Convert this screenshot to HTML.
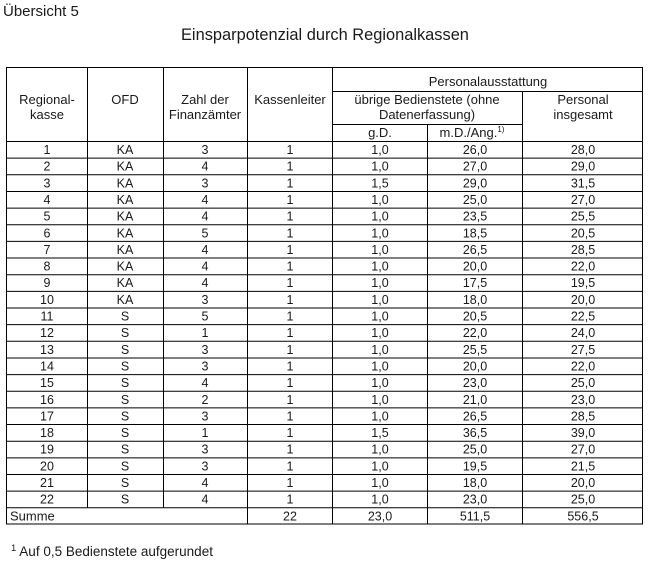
<!DOCTYPE html>
<html><head><meta charset="utf-8"><style>
body{margin:0;background:#fff;}
svg{display:block;font-family:"Liberation Sans",Arial,sans-serif;}
text{fill:#1a1a1a;}
.c{text-anchor:middle;font-size:12.5px;}
.h{text-anchor:middle;font-size:13px;}
</style></head><body>
<svg width="648" height="563" xmlns="http://www.w3.org/2000/svg">
<text x="3" y="16" font-size="15">Übersicht 5</text>
<text x="181" y="40" font-size="16.4">Einsparpotenzial durch Regionalkassen</text>
<g stroke="#000" stroke-width="1" fill="none">
<rect x="6.5" y="67.5" width="636" height="456.5"/>
<line x1="332.5" y1="91.5" x2="642.5" y2="91.5"/>
<line x1="332.5" y1="124.5" x2="522.5" y2="124.5"/>
<line x1="6.5" y1="141.5" x2="642.5" y2="141.5"/>
<line x1="87.5" y1="67.5" x2="87.5" y2="507.5"/>
<line x1="163.5" y1="67.5" x2="163.5" y2="507.5"/>
<line x1="247.5" y1="67.5" x2="247.5" y2="524"/>
<line x1="332.5" y1="67.5" x2="332.5" y2="524"/>
<line x1="427.5" y1="124.5" x2="427.5" y2="524"/>
<line x1="522.5" y1="91.5" x2="522.5" y2="524"/>
<line x1="6.5" y1="158.15" x2="642.5" y2="158.15"/>
<line x1="6.5" y1="174.8" x2="642.5" y2="174.8"/>
<line x1="6.5" y1="191.45" x2="642.5" y2="191.45"/>
<line x1="6.5" y1="208.1" x2="642.5" y2="208.1"/>
<line x1="6.5" y1="224.75" x2="642.5" y2="224.75"/>
<line x1="6.5" y1="241.4" x2="642.5" y2="241.4"/>
<line x1="6.5" y1="258.05" x2="642.5" y2="258.05"/>
<line x1="6.5" y1="274.7" x2="642.5" y2="274.7"/>
<line x1="6.5" y1="291.35" x2="642.5" y2="291.35"/>
<line x1="6.5" y1="308" x2="642.5" y2="308"/>
<line x1="6.5" y1="324.65" x2="642.5" y2="324.65"/>
<line x1="6.5" y1="341.3" x2="642.5" y2="341.3"/>
<line x1="6.5" y1="357.95" x2="642.5" y2="357.95"/>
<line x1="6.5" y1="374.6" x2="642.5" y2="374.6"/>
<line x1="6.5" y1="391.25" x2="642.5" y2="391.25"/>
<line x1="6.5" y1="407.9" x2="642.5" y2="407.9"/>
<line x1="6.5" y1="424.55" x2="642.5" y2="424.55"/>
<line x1="6.5" y1="441.2" x2="642.5" y2="441.2"/>
<line x1="6.5" y1="457.85" x2="642.5" y2="457.85"/>
<line x1="6.5" y1="474.5" x2="642.5" y2="474.5"/>
<line x1="6.5" y1="491.15" x2="642.5" y2="491.15"/>
<line x1="6.5" y1="507.8" x2="642.5" y2="507.8"/>
</g>
<text x="488" y="86" class="h">Personalausstattung</text>
<text x="47" y="104" class="h">Regional-</text><text x="47" y="119" class="h">kasse</text>
<text x="125" y="104" class="h">OFD</text>
<text x="205" y="104" class="h">Zahl der</text><text x="205" y="119" class="h">Finanzämter</text>
<text x="290" y="104" class="h">Kassenleiter</text>
<text x="427" y="104" class="h">übrige Bedienstete (ohne</text><text x="427" y="119" class="h">Datenerfassung)</text>
<text x="583" y="104" class="h">Personal</text><text x="583" y="119" class="h">insgesamt</text>
<text x="380" y="137" class="h">g.D.</text>
<text x="472" y="137" class="h">m.D./Ang.<tspan font-size="8" dy="-5">1)</tspan></text>
<text class="c" x="47" y="154">1</text><text class="c" x="125" y="154">KA</text><text class="c" x="205" y="154">3</text><text class="c" x="290" y="154">1</text><text class="c" x="380" y="154">1,0</text><text class="c" x="475" y="154">26,0</text><text class="c" x="583" y="154">28,0</text>
<text class="c" x="47" y="170.7">2</text><text class="c" x="125" y="170.7">KA</text><text class="c" x="205" y="170.7">4</text><text class="c" x="290" y="170.7">1</text><text class="c" x="380" y="170.7">1,0</text><text class="c" x="475" y="170.7">27,0</text><text class="c" x="583" y="170.7">29,0</text>
<text class="c" x="47" y="187.3">3</text><text class="c" x="125" y="187.3">KA</text><text class="c" x="205" y="187.3">3</text><text class="c" x="290" y="187.3">1</text><text class="c" x="380" y="187.3">1,5</text><text class="c" x="475" y="187.3">29,0</text><text class="c" x="583" y="187.3">31,5</text>
<text class="c" x="47" y="204">4</text><text class="c" x="125" y="204">KA</text><text class="c" x="205" y="204">4</text><text class="c" x="290" y="204">1</text><text class="c" x="380" y="204">1,0</text><text class="c" x="475" y="204">25,0</text><text class="c" x="583" y="204">27,0</text>
<text class="c" x="47" y="220.6">5</text><text class="c" x="125" y="220.6">KA</text><text class="c" x="205" y="220.6">4</text><text class="c" x="290" y="220.6">1</text><text class="c" x="380" y="220.6">1,0</text><text class="c" x="475" y="220.6">23,5</text><text class="c" x="583" y="220.6">25,5</text>
<text class="c" x="47" y="237.3">6</text><text class="c" x="125" y="237.3">KA</text><text class="c" x="205" y="237.3">5</text><text class="c" x="290" y="237.3">1</text><text class="c" x="380" y="237.3">1,0</text><text class="c" x="475" y="237.3">18,5</text><text class="c" x="583" y="237.3">20,5</text>
<text class="c" x="47" y="253.9">7</text><text class="c" x="125" y="253.9">KA</text><text class="c" x="205" y="253.9">4</text><text class="c" x="290" y="253.9">1</text><text class="c" x="380" y="253.9">1,0</text><text class="c" x="475" y="253.9">26,5</text><text class="c" x="583" y="253.9">28,5</text>
<text class="c" x="47" y="270.6">8</text><text class="c" x="125" y="270.6">KA</text><text class="c" x="205" y="270.6">4</text><text class="c" x="290" y="270.6">1</text><text class="c" x="380" y="270.6">1,0</text><text class="c" x="475" y="270.6">20,0</text><text class="c" x="583" y="270.6">22,0</text>
<text class="c" x="47" y="287.2">9</text><text class="c" x="125" y="287.2">KA</text><text class="c" x="205" y="287.2">4</text><text class="c" x="290" y="287.2">1</text><text class="c" x="380" y="287.2">1,0</text><text class="c" x="475" y="287.2">17,5</text><text class="c" x="583" y="287.2">19,5</text>
<text class="c" x="47" y="303.9">10</text><text class="c" x="125" y="303.9">KA</text><text class="c" x="205" y="303.9">3</text><text class="c" x="290" y="303.9">1</text><text class="c" x="380" y="303.9">1,0</text><text class="c" x="475" y="303.9">18,0</text><text class="c" x="583" y="303.9">20,0</text>
<text class="c" x="47" y="320.5">11</text><text class="c" x="125" y="320.5">S</text><text class="c" x="205" y="320.5">5</text><text class="c" x="290" y="320.5">1</text><text class="c" x="380" y="320.5">1,0</text><text class="c" x="475" y="320.5">20,5</text><text class="c" x="583" y="320.5">22,5</text>
<text class="c" x="47" y="337.2">12</text><text class="c" x="125" y="337.2">S</text><text class="c" x="205" y="337.2">1</text><text class="c" x="290" y="337.2">1</text><text class="c" x="380" y="337.2">1,0</text><text class="c" x="475" y="337.2">22,0</text><text class="c" x="583" y="337.2">24,0</text>
<text class="c" x="47" y="353.8">13</text><text class="c" x="125" y="353.8">S</text><text class="c" x="205" y="353.8">3</text><text class="c" x="290" y="353.8">1</text><text class="c" x="380" y="353.8">1,0</text><text class="c" x="475" y="353.8">25,5</text><text class="c" x="583" y="353.8">27,5</text>
<text class="c" x="47" y="370.5">14</text><text class="c" x="125" y="370.5">S</text><text class="c" x="205" y="370.5">3</text><text class="c" x="290" y="370.5">1</text><text class="c" x="380" y="370.5">1,0</text><text class="c" x="475" y="370.5">20,0</text><text class="c" x="583" y="370.5">22,0</text>
<text class="c" x="47" y="387.1">15</text><text class="c" x="125" y="387.1">S</text><text class="c" x="205" y="387.1">4</text><text class="c" x="290" y="387.1">1</text><text class="c" x="380" y="387.1">1,0</text><text class="c" x="475" y="387.1">23,0</text><text class="c" x="583" y="387.1">25,0</text>
<text class="c" x="47" y="403.8">16</text><text class="c" x="125" y="403.8">S</text><text class="c" x="205" y="403.8">2</text><text class="c" x="290" y="403.8">1</text><text class="c" x="380" y="403.8">1,0</text><text class="c" x="475" y="403.8">21,0</text><text class="c" x="583" y="403.8">23,0</text>
<text class="c" x="47" y="420.4">17</text><text class="c" x="125" y="420.4">S</text><text class="c" x="205" y="420.4">3</text><text class="c" x="290" y="420.4">1</text><text class="c" x="380" y="420.4">1,0</text><text class="c" x="475" y="420.4">26,5</text><text class="c" x="583" y="420.4">28,5</text>
<text class="c" x="47" y="437.1">18</text><text class="c" x="125" y="437.1">S</text><text class="c" x="205" y="437.1">1</text><text class="c" x="290" y="437.1">1</text><text class="c" x="380" y="437.1">1,5</text><text class="c" x="475" y="437.1">36,5</text><text class="c" x="583" y="437.1">39,0</text>
<text class="c" x="47" y="453.7">19</text><text class="c" x="125" y="453.7">S</text><text class="c" x="205" y="453.7">3</text><text class="c" x="290" y="453.7">1</text><text class="c" x="380" y="453.7">1,0</text><text class="c" x="475" y="453.7">25,0</text><text class="c" x="583" y="453.7">27,0</text>
<text class="c" x="47" y="470.4">20</text><text class="c" x="125" y="470.4">S</text><text class="c" x="205" y="470.4">3</text><text class="c" x="290" y="470.4">1</text><text class="c" x="380" y="470.4">1,0</text><text class="c" x="475" y="470.4">19,5</text><text class="c" x="583" y="470.4">21,5</text>
<text class="c" x="47" y="487">21</text><text class="c" x="125" y="487">S</text><text class="c" x="205" y="487">4</text><text class="c" x="290" y="487">1</text><text class="c" x="380" y="487">1,0</text><text class="c" x="475" y="487">18,0</text><text class="c" x="583" y="487">20,0</text>
<text class="c" x="47" y="503.7">22</text><text class="c" x="125" y="503.7">S</text><text class="c" x="205" y="503.7">4</text><text class="c" x="290" y="503.7">1</text><text class="c" x="380" y="503.7">1,0</text><text class="c" x="475" y="503.7">23,0</text><text class="c" x="583" y="503.7">25,0</text>
<text x="10" y="520.3" font-size="13">Summe</text><text class="c" x="290" y="520.3">22</text><text class="c" x="380" y="520.3">23,0</text><text class="c" x="475" y="520.3">511,5</text><text class="c" x="583" y="520.3">556,5</text>
<text x="11" y="556" font-size="13.5"><tspan font-size="9.5" dy="-5">1</tspan><tspan dy="5"> Auf 0,5 Bedienstete aufgerundet</tspan></text>
</svg>
</body></html>
